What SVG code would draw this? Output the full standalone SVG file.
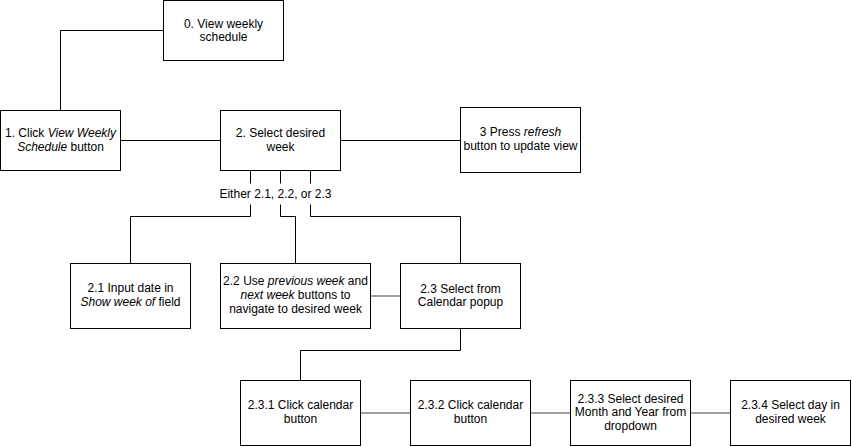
<svg xmlns="http://www.w3.org/2000/svg" width="852" height="447" viewBox="0 0 852 447">
<style>
.box{fill:#fff;stroke:#000;stroke-width:1}
text{font-family:"Liberation Sans",Arial,sans-serif;font-size:12px;fill:#000;text-anchor:middle}
.i{font-style:italic}
.c{fill:none;stroke:#000;stroke-width:1}
.g{fill:none;stroke:#808080;stroke-width:1.5}
</style>
<rect width="852" height="447" fill="#fff"/>
<g id="connectors">
<path class="c" d="M163.5,30.5 H60.5 V110.5"/>
<path class="c" d="M120.5,140.5 H220.5"/>
<path class="c" d="M340.5,140.5 H460.5"/>
<path class="c" d="M250.5,170.5 V183.5 M280.5,170.5 V183.5 M310.5,170.5 V183.5"/>
<path class="c" d="M250.5,204.5 V216.5 H130.5 V263.5"/>
<path class="c" d="M280.5,204.5 V216.5 H295.5 V263.5"/>
<path class="c" d="M310.5,204.5 V216.5 H460.5 V263.5"/>
<path class="g" d="M370.5,296 H400.5"/>
<path class="c" d="M460.5,328.5 V350.5 H300.5 V380.5"/>
<path class="g" d="M360.5,413 H410.5"/>
<path class="g" d="M530.5,413 H570.5"/>
<path class="g" d="M690.5,413 H730.5"/>
</g>
<text x="275.5" y="197.5">Either 2.1, 2.2, or 2.3</text>
<g id="n0"><rect class="box" x="163.5" y="0.5" width="120" height="60"/>
<text x="223.5" y="27.5">0. View weekly</text><text x="223.5" y="41">schedule</text></g>
<g id="n1"><rect class="box" x="0.5" y="110.5" width="120" height="60"/>
<text x="60.5" y="137">1. Click <tspan class="i">View Weekly</tspan></text><text x="60.5" y="151"><tspan class="i">Schedule</tspan> button</text></g>
<g id="n2"><rect class="box" x="220.5" y="110.5" width="120" height="60"/>
<text x="280.5" y="137">2. Select desired</text><text x="280.5" y="151">week</text></g>
<g id="n3"><rect class="box" x="460.5" y="107.5" width="120" height="65"/>
<text x="520.5" y="136">3 Press <tspan class="i">refresh</tspan></text><text x="520.5" y="150">button to update view</text></g>
<g id="n21"><rect class="box" x="70.5" y="263.5" width="120" height="65"/>
<text x="130.5" y="292">2.1 Input date in</text><text x="130.5" y="306"><tspan class="i">Show week of</tspan> field</text></g>
<g id="n22"><rect class="box" x="220.5" y="263.5" width="150" height="65"/>
<text x="295.5" y="285">2.2 Use <tspan class="i">previous week</tspan> and</text><text x="295.5" y="299"><tspan class="i">next week</tspan> buttons to</text><text x="295.5" y="313">navigate to desired week</text></g>
<g id="n23"><rect class="box" x="400.5" y="263.5" width="120" height="65"/>
<text x="460.5" y="292.5">2.3 Select from</text><text x="460.5" y="306">Calendar popup</text></g>
<g id="n231"><rect class="box" x="240.5" y="380.5" width="120" height="65"/>
<text x="300.5" y="409">2.3.1 Click calendar</text><text x="300.5" y="423">button</text></g>
<g id="n232"><rect class="box" x="410.5" y="380.5" width="120" height="65"/>
<text x="470.5" y="409">2.3.2 Click calendar</text><text x="470.5" y="423">button</text></g>
<g id="n233"><rect class="box" x="570.5" y="380.5" width="120" height="65"/>
<text x="630.5" y="402.5">2.3.3 Select desired</text><text x="630.5" y="416">Month and Year from</text><text x="630.5" y="430">dropdown</text></g>
<g id="n234"><rect class="box" x="730.5" y="380.5" width="120" height="65"/>
<text x="790.5" y="409">2.3.4 Select day in</text><text x="790.5" y="423">desired week</text></g>
</svg>
